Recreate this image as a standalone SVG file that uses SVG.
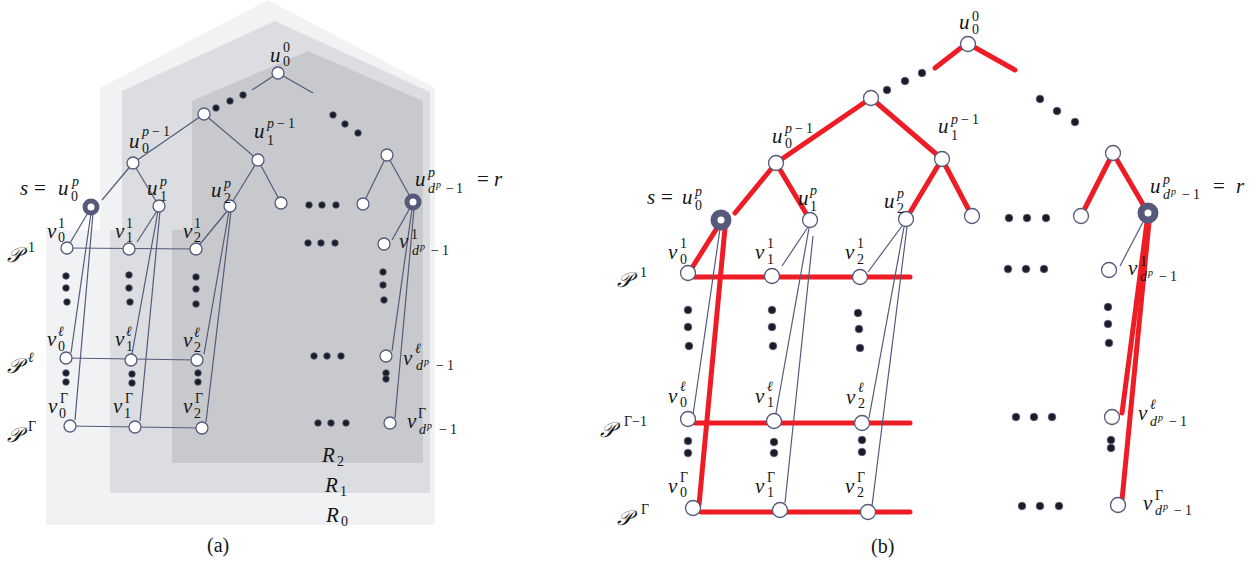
<svg xmlns="http://www.w3.org/2000/svg" width="1259" height="563" viewBox="0 0 1259 563">
<style>
text{font-family:"Liberation Serif","Times New Roman",serif;fill:#151515}
.m{font-size:21px;font-style:italic}
.n{font-style:normal;font-size:14px}
.i{font-style:italic;font-size:14px}
.t{font-style:italic;font-size:10px}
.P{font-size:21px;font-style:italic}
.cap{font-size:20px;font-style:normal}
.nd{fill:#fff;stroke:#555a7a;stroke-width:1.3}
.ring{fill:#fff;stroke:#555a7a}
.dot{fill:#1c1c28;stroke:#555a7a;stroke-width:0.8}
.th{stroke:#555a7a;stroke-width:1.2;fill:none}
.rd{stroke:#ee1d25;stroke-width:5;stroke-linecap:round;fill:none}
</style>
<rect width="1259" height="563" fill="#fff"/>
<g id="regions">
<polygon points="46,525 46,230 100,230 100,88 268,0 435,88 435,525" fill="#f1f2f4"/>
<polygon points="110,493 110,230 122,230 122,91 275,21 430,92 430,493" fill="#dcdde0"/>
<polygon points="172,463 172,230 192,230 192,101 308,51 423,101 423,463" fill="#c8c9cc"/>
</g>
<g id="connectors">
<g id="conn-a">
<line class="th" x1="278" y1="73" x2="252" y2="90"/>
<line class="th" x1="278" y1="73" x2="313" y2="93"/>
<line class="th" x1="204" y1="114" x2="133" y2="163"/>
<line class="th" x1="204" y1="114" x2="258" y2="160"/>
<line class="th" x1="133" y1="163" x2="102" y2="200"/>
<line class="th" x1="133" y1="163" x2="159" y2="206"/>
<line class="th" x1="258" y1="160" x2="230" y2="206"/>
<line class="th" x1="258" y1="160" x2="281" y2="203"/>
<line class="th" x1="387" y1="155" x2="363" y2="204"/>
<line class="th" x1="387" y1="155" x2="413" y2="202"/>
<line class="th" x1="89" y1="211" x2="67" y2="248"/>
<line class="th" x1="91" y1="213" x2="71" y2="353"/>
<line class="th" x1="93" y1="213" x2="75" y2="420"/>
<line class="th" x1="157" y1="211" x2="137" y2="242"/>
<line class="th" x1="158" y1="211" x2="132" y2="354"/>
<line class="th" x1="160" y1="211" x2="140" y2="421"/>
<line class="th" x1="228" y1="210" x2="196" y2="249"/>
<line class="th" x1="229" y1="211" x2="204" y2="354"/>
<line class="th" x1="231" y1="211" x2="206" y2="422"/>
<line class="th" x1="410" y1="208" x2="392" y2="240"/>
<line class="th" x1="412" y1="209" x2="392" y2="351"/>
<line class="th" x1="414" y1="209" x2="395" y2="418"/>
<line class="th" x1="67" y1="248" x2="196" y2="249"/>
<line class="th" x1="66" y1="358" x2="197" y2="360"/>
<line class="th" x1="70" y1="426" x2="202" y2="428"/>
</g>
<g id="conn-b">
<line class="rd" x1="962" y1="47" x2="935" y2="68"/>
<line class="rd" x1="974" y1="47" x2="1015" y2="70"/>
<line class="rd" x1="871" y1="98" x2="776" y2="163"/>
<line class="rd" x1="871" y1="98" x2="942" y2="159"/>
<line class="rd" x1="776" y1="163" x2="735" y2="213"/>
<line class="rd" x1="776" y1="163" x2="810" y2="220"/>
<line class="rd" x1="942" y1="159" x2="906" y2="219"/>
<line class="rd" x1="942" y1="159" x2="972" y2="216"/>
<line class="rd" x1="1113" y1="153" x2="1081" y2="216"/>
<line class="rd" x1="1113" y1="153" x2="1148" y2="213"/>
<line class="rd" x1="717" y1="228" x2="690" y2="271"/>
<line class="rd" x1="725" y1="228" x2="699" y2="505"/>
<line class="rd" x1="1147" y1="222" x2="1122" y2="413"/>
<line class="rd" x1="1149" y1="222" x2="1122" y2="500"/>
<line class="rd" x1="694" y1="277" x2="910" y2="277"/>
<line class="rd" x1="695" y1="423" x2="910" y2="423"/>
<line class="rd" x1="701" y1="512" x2="910" y2="512"/>
<line class="th" x1="720" y1="229" x2="693" y2="415"/>
<line class="th" x1="808" y1="227" x2="782" y2="266"/>
<line class="th" x1="809" y1="228" x2="776" y2="413"/>
<line class="th" x1="813" y1="236" x2="785" y2="503"/>
<line class="th" x1="902" y1="226" x2="868" y2="272"/>
<line class="th" x1="904" y1="227" x2="869" y2="418"/>
<line class="th" x1="907" y1="227" x2="872" y2="506"/>
<line class="th" x1="1143" y1="222" x2="1120" y2="266"/>
</g>
</g>
<g id="dots">
<circle class="dot" r="3.3" cx="216" cy="108"/><circle class="dot" r="3.3" cx="230" cy="101"/><circle class="dot" r="3.3" cx="243" cy="95"/>
<circle class="dot" r="3.3" cx="333" cy="115"/><circle class="dot" r="3.3" cx="345" cy="124"/><circle class="dot" r="3.3" cx="358" cy="133"/>
<circle class="dot" r="3.3" cx="309" cy="205"/><circle class="dot" r="3.3" cx="322" cy="205"/><circle class="dot" r="3.3" cx="336" cy="205"/>
<circle class="dot" r="3.3" cx="308" cy="243"/><circle class="dot" r="3.3" cx="321" cy="243"/><circle class="dot" r="3.3" cx="335" cy="243"/>
<circle class="dot" r="3.3" cx="314" cy="356"/><circle class="dot" r="3.3" cx="327" cy="356"/><circle class="dot" r="3.3" cx="341" cy="356"/>
<circle class="dot" r="3.3" cx="318" cy="423"/><circle class="dot" r="3.3" cx="331" cy="423"/><circle class="dot" r="3.3" cx="346" cy="423"/>
<circle class="dot" r="3.3" cx="66" cy="276"/><circle class="dot" r="3.3" cx="66" cy="288"/><circle class="dot" r="3.3" cx="67" cy="302"/>
<circle class="dot" r="3.3" cx="129" cy="275"/><circle class="dot" r="3.3" cx="129" cy="288"/><circle class="dot" r="3.3" cx="130" cy="302"/>
<circle class="dot" r="3.3" cx="196" cy="277"/><circle class="dot" r="3.3" cx="196" cy="289"/><circle class="dot" r="3.3" cx="196" cy="304"/>
<circle class="dot" r="3.3" cx="383" cy="272"/><circle class="dot" r="3.3" cx="383" cy="285"/><circle class="dot" r="3.3" cx="384" cy="300"/>
<circle class="dot" r="3.3" cx="66" cy="373"/><circle class="dot" r="3.3" cx="66" cy="382"/>
<circle class="dot" r="3.3" cx="132" cy="374"/><circle class="dot" r="3.3" cx="132" cy="383"/>
<circle class="dot" r="3.3" cx="198" cy="373"/><circle class="dot" r="3.3" cx="198" cy="382"/>
<circle class="dot" r="3.3" cx="386" cy="373"/><circle class="dot" r="3.3" cx="386" cy="379"/>
<circle class="dot" r="3.8" cx="887" cy="90"/><circle class="dot" r="3.8" cx="905" cy="81"/><circle class="dot" r="3.8" cx="922" cy="73"/>
<circle class="dot" r="3.8" cx="1040" cy="99"/><circle class="dot" r="3.8" cx="1057" cy="111"/><circle class="dot" r="3.8" cx="1075" cy="122"/>
<circle class="dot" r="3.8" cx="1009" cy="218"/><circle class="dot" r="3.8" cx="1027" cy="218"/><circle class="dot" r="3.8" cx="1046" cy="218"/>
<circle class="dot" r="3.8" cx="1008" cy="269"/><circle class="dot" r="3.8" cx="1026" cy="269"/><circle class="dot" r="3.8" cx="1044" cy="269"/>
<circle class="dot" r="3.8" cx="1016" cy="417"/><circle class="dot" r="3.8" cx="1034" cy="417"/><circle class="dot" r="3.8" cx="1052" cy="417"/>
<circle class="dot" r="3.8" cx="1022" cy="506"/><circle class="dot" r="3.8" cx="1040" cy="506"/><circle class="dot" r="3.8" cx="1059" cy="506"/>
<circle class="dot" r="3.8" cx="688" cy="310"/><circle class="dot" r="3.8" cx="688" cy="327"/><circle class="dot" r="3.8" cx="689" cy="346"/>
<circle class="dot" r="3.8" cx="772" cy="310"/><circle class="dot" r="3.8" cx="772" cy="327"/><circle class="dot" r="3.8" cx="773" cy="346"/>
<circle class="dot" r="3.8" cx="858" cy="313"/><circle class="dot" r="3.8" cx="859" cy="329"/><circle class="dot" r="3.8" cx="860" cy="348"/>
<circle class="dot" r="3.8" cx="1108" cy="307"/><circle class="dot" r="3.8" cx="1108" cy="324"/><circle class="dot" r="3.8" cx="1109" cy="343"/>
<circle class="dot" r="3.8" cx="688" cy="441"/><circle class="dot" r="3.8" cx="688" cy="453"/>
<circle class="dot" r="3.8" cx="774" cy="442"/><circle class="dot" r="3.8" cx="774" cy="453"/>
<circle class="dot" r="3.8" cx="862" cy="440"/><circle class="dot" r="3.8" cx="862" cy="452"/>
<circle class="dot" r="3.8" cx="1111" cy="440"/><circle class="dot" r="3.8" cx="1111" cy="448"/>
</g>
<g id="nodes-a">
<g id="a-u00"><circle class="nd" cx="278" cy="73" r="6"/><text class="m" x="270" y="62">u<tspan class="n" x="283" y="52">0</tspan><tspan class="n" x="283" y="66">0</tspan></text></g>
<g id="a-mid"><circle class="nd" cx="204" cy="114" r="6"/></g>
<g id="a-u0p1"><circle class="nd" cx="133" cy="163" r="6"/><text class="m" x="129" y="148">u<tspan class="i" x="142" y="136">p</tspan><tspan class="n" x="152" y="136">−</tspan><tspan class="n" x="163" y="136">1</tspan><tspan class="n" x="142" y="153">0</tspan></text></g>
<g id="a-u1p1"><circle class="nd" cx="258" cy="160" r="6"/><text class="m" x="254" y="138">u<tspan class="i" x="267" y="128">p</tspan><tspan class="n" x="277" y="128">−</tspan><tspan class="n" x="288" y="128">1</tspan><tspan class="n" x="267" y="145">1</tspan></text></g>
<g id="a-right"><circle class="nd" cx="387" cy="155" r="6"/></g>
<g id="a-s"><circle class="ring" cx="91" cy="207" r="6" stroke-width="5"/><text class="m" x="20" y="195">s<tspan font-style="normal" x="34">=</tspan><tspan x="58">u</tspan><tspan class="i" x="72" y="186">p</tspan><tspan class="n" x="71" y="201">0</tspan></text></g>
<g id="a-u1p"><circle class="nd" cx="159" cy="206" r="6"/><text class="m" x="147" y="195">u<tspan class="i" x="160" y="186">p</tspan><tspan class="n" x="160" y="201">1</tspan></text></g>
<g id="a-u2p"><circle class="nd" cx="230" cy="206" r="6"/><text class="m" x="211" y="197">u<tspan class="i" x="224" y="188">p</tspan><tspan class="n" x="224" y="203">2</tspan></text></g>
<g id="a-n3"><circle class="nd" cx="281" cy="203" r="6"/></g>
<g id="a-n4"><circle class="nd" cx="363" cy="204" r="6"/></g>
<g id="a-r"><circle class="ring" cx="413" cy="202" r="6" stroke-width="5"/><text class="m" x="415" y="186">u<tspan class="i" x="428" y="177">p</tspan><tspan class="i" x="428" y="193">d</tspan><tspan class="t" x="436" y="188">p</tspan><tspan class="n" x="446" y="193">−</tspan><tspan class="n" x="456" y="193">1</tspan><tspan font-style="normal" x="477" y="186">=</tspan><tspan x="494" y="186">r</tspan></text></g>
<g id="a-v01"><circle class="nd" cx="67" cy="248" r="6"/><text class="m" x="47" y="238">v<tspan class="n" x="58" y="228">1</tspan><tspan class="n" x="58" y="242">0</tspan></text></g>
<g id="a-v11"><circle class="nd" cx="129" cy="249" r="6"/><text class="m" x="115" y="238">v<tspan class="n" x="126" y="228">1</tspan><tspan class="n" x="126" y="242">1</tspan></text></g>
<g id="a-v21"><circle class="nd" cx="196" cy="249" r="6"/><text class="m" x="183" y="238">v<tspan class="n" x="194" y="228">1</tspan><tspan class="n" x="194" y="242">2</tspan></text></g>
<g id="a-vd1"><circle class="nd" cx="384" cy="244" r="6"/><text class="m" x="399" y="248">v<tspan class="n" x="411" y="239">1</tspan><tspan class="i" x="412" y="255">d</tspan><tspan class="t" x="420" y="250">p</tspan><tspan class="n" x="431" y="255">−</tspan><tspan class="n" x="442" y="255">1</tspan></text></g>
<g id="a-v0l"><circle class="nd" cx="66" cy="358" r="6"/><text class="m" x="47" y="346">v<tspan class="i" x="58" y="336">ℓ</tspan><tspan class="n" x="58" y="351">0</tspan></text></g>
<g id="a-v1l"><circle class="nd" cx="131" cy="360" r="6"/><text class="m" x="115" y="346">v<tspan class="i" x="126" y="336">ℓ</tspan><tspan class="n" x="126" y="351">1</tspan></text></g>
<g id="a-v2l"><circle class="nd" cx="197" cy="360" r="6"/><text class="m" x="183" y="347">v<tspan class="i" x="194" y="337">ℓ</tspan><tspan class="n" x="194" y="352">2</tspan></text></g>
<g id="a-vdl"><circle class="nd" cx="386" cy="356" r="6"/><text class="m" x="403" y="365">v<tspan class="i" x="415" y="353">ℓ</tspan><tspan class="i" x="416" y="370">d</tspan><tspan class="t" x="424" y="365">p</tspan><tspan class="n" x="436" y="370">−</tspan><tspan class="n" x="447" y="370">1</tspan></text></g>
<g id="a-v0G"><circle class="nd" cx="70" cy="426" r="6"/><text class="m" x="48" y="413">v<tspan class="n" x="60" y="403">Γ</tspan><tspan class="n" x="59" y="418">0</tspan></text></g>
<g id="a-v1G"><circle class="nd" cx="135" cy="427" r="6"/><text class="m" x="113" y="413">v<tspan class="n" x="125" y="403">Γ</tspan><tspan class="n" x="124" y="418">1</tspan></text></g>
<g id="a-v2G"><circle class="nd" cx="202" cy="428" r="6"/><text class="m" x="183" y="413">v<tspan class="n" x="195" y="403">Γ</tspan><tspan class="n" x="194" y="418">2</tspan></text></g>
<g id="a-vdG"><circle class="nd" cx="390" cy="423" r="6"/><text class="m" x="407" y="428">v<tspan class="n" x="418" y="418">Γ</tspan><tspan class="i" x="419" y="434">d</tspan><tspan class="t" x="427" y="429">p</tspan><tspan class="n" x="439" y="434">−</tspan><tspan class="n" x="450" y="434">1</tspan></text></g>
</g>
<g id="labels-a">
<text class="P" x="7" y="262">𝒫<tspan class="n" x="28" y="252">1</tspan></text>
<text class="P" x="7" y="373">𝒫<tspan class="i" x="28" y="362">ℓ</tspan></text>
<text class="P" x="7" y="442">𝒫<tspan class="n" x="28" y="431">Γ</tspan></text>
<text class="m" x="322" y="462">R<tspan class="n" x="337" y="466">2</tspan></text>
<text class="m" x="325" y="492">R<tspan class="n" x="340" y="496">1</tspan></text>
<text class="m" x="326" y="522">R<tspan class="n" x="341" y="526">0</tspan></text>
<text class="cap" x="207" y="552">(a)</text>
</g>
<g id="nodes-b">
<g id="b-u00"><circle class="nd" cx="968" cy="44" r="7.5"/><text class="m" x="959" y="29">u<tspan class="n" x="972" y="21">0</tspan><tspan class="n" x="972" y="34">0</tspan></text></g>
<g id="b-mid"><circle class="nd" cx="871" cy="98" r="7.5"/></g>
<g id="b-u0p1"><circle class="nd" cx="776" cy="163" r="7.5"/><text class="m" x="772" y="143">u<tspan class="i" x="785" y="133">p</tspan><tspan class="n" x="795" y="133">−</tspan><tspan class="n" x="806" y="133">1</tspan><tspan class="n" x="785" y="148">0</tspan></text></g>
<g id="b-u1p1"><circle class="nd" cx="942" cy="159" r="7.5"/><text class="m" x="938" y="133">u<tspan class="i" x="951" y="124">p</tspan><tspan class="n" x="961" y="124">−</tspan><tspan class="n" x="972" y="124">1</tspan><tspan class="n" x="951" y="140">1</tspan></text></g>
<g id="b-right"><circle class="nd" cx="1113" cy="153" r="7.5"/></g>
<g id="b-s"><circle class="ring" cx="721" cy="220" r="7" stroke-width="7"/><text class="m" x="647" y="204">s<tspan font-style="normal" x="661">=</tspan><tspan x="682">u</tspan><tspan class="i" x="695" y="196">p</tspan><tspan class="n" x="695" y="210">0</tspan></text></g>
<g id="b-u1p"><circle class="nd" cx="810" cy="220" r="7.5"/><text class="m" x="798" y="205">u<tspan class="i" x="810" y="195">p</tspan><tspan class="n" x="810" y="211">1</tspan></text></g>
<g id="b-u2p"><circle class="nd" cx="906" cy="219" r="7.5"/><text class="m" x="884" y="208">u<tspan class="i" x="897" y="198">p</tspan><tspan class="n" x="897" y="213">2</tspan></text></g>
<g id="b-n3"><circle class="nd" cx="972" cy="216" r="7.5"/></g>
<g id="b-n4"><circle class="nd" cx="1081" cy="216" r="7.5"/></g>
<g id="b-r"><circle class="ring" cx="1148" cy="213" r="7" stroke-width="7"/><text class="m" x="1150" y="193">u<tspan class="i" x="1163" y="184">p</tspan><tspan class="i" x="1163" y="199">d</tspan><tspan class="t" x="1171" y="195">p</tspan><tspan class="n" x="1182" y="199">−</tspan><tspan class="n" x="1193" y="199">1</tspan><tspan font-style="normal" x="1213" y="193">=</tspan><tspan x="1236" y="193">r</tspan></text></g>
<g id="b-v01"><circle class="nd" cx="688" cy="273" r="7.5"/><text class="m" x="668" y="259">v<tspan class="n" x="680" y="248">1</tspan><tspan class="n" x="680" y="264">0</tspan></text></g>
<g id="b-v11"><circle class="nd" cx="772" cy="276" r="7.5"/><text class="m" x="755" y="259">v<tspan class="n" x="767" y="248">1</tspan><tspan class="n" x="767" y="264">1</tspan></text></g>
<g id="b-v21"><circle class="nd" cx="860" cy="277" r="7.5"/><text class="m" x="845" y="259">v<tspan class="n" x="857" y="248">1</tspan><tspan class="n" x="857" y="264">2</tspan></text></g>
<g id="b-vd1"><circle class="nd" cx="1109" cy="270" r="7.5"/><text class="m" x="1128" y="275">v<tspan class="n" x="1140" y="266">1</tspan><tspan class="i" x="1140" y="281">d</tspan><tspan class="t" x="1148" y="276">p</tspan><tspan class="n" x="1159" y="281">−</tspan><tspan class="n" x="1170" y="281">1</tspan></text></g>
<g id="b-v0l"><circle class="nd" cx="688" cy="419" r="7.5"/><text class="m" x="668" y="403">v<tspan class="i" x="680" y="391">ℓ</tspan><tspan class="n" x="680" y="407">0</tspan></text></g>
<g id="b-v1l"><circle class="nd" cx="774" cy="421" r="7.5"/><text class="m" x="755" y="403">v<tspan class="i" x="767" y="391">ℓ</tspan><tspan class="n" x="767" y="407">1</tspan></text></g>
<g id="b-v2l"><circle class="nd" cx="862" cy="423" r="7.5"/><text class="m" x="846" y="404">v<tspan class="i" x="858" y="392">ℓ</tspan><tspan class="n" x="858" y="408">2</tspan></text></g>
<g id="b-vdl"><circle class="nd" cx="1112" cy="417" r="7.5"/><text class="m" x="1138" y="420">v<tspan class="i" x="1150" y="409">ℓ</tspan><tspan class="i" x="1150" y="426">d</tspan><tspan class="t" x="1158" y="421">p</tspan><tspan class="n" x="1169" y="426">−</tspan><tspan class="n" x="1180" y="426">1</tspan></text></g>
<g id="b-v0G"><circle class="nd" cx="693" cy="508" r="7.5"/><text class="m" x="668" y="493">v<tspan class="n" x="680" y="482">Γ</tspan><tspan class="n" x="680" y="497">0</tspan></text></g>
<g id="b-v1G"><circle class="nd" cx="780" cy="510" r="7.5"/><text class="m" x="755" y="493">v<tspan class="n" x="767" y="482">Γ</tspan><tspan class="n" x="767" y="497">1</tspan></text></g>
<g id="b-v2G"><circle class="nd" cx="868" cy="512" r="7.5"/><text class="m" x="845" y="493">v<tspan class="n" x="857" y="482">Γ</tspan><tspan class="n" x="857" y="497">2</tspan></text></g>
<g id="b-vdG"><circle class="nd" cx="1118" cy="505" r="7.5"/><text class="m" x="1143" y="510">v<tspan class="n" x="1155" y="500">Γ</tspan><tspan class="i" x="1155" y="515">d</tspan><tspan class="t" x="1163" y="510">p</tspan><tspan class="n" x="1174" y="515">−</tspan><tspan class="n" x="1185" y="515">1</tspan></text></g>
</g>
<g id="labels-b">
<text class="P" x="617" y="287">𝒫<tspan class="n" x="640" y="277">1</tspan></text>
<text class="P" x="600" y="437">𝒫<tspan class="n" x="624" y="426">Γ−1</tspan></text>
<text class="P" x="617" y="525">𝒫<tspan class="n" x="641" y="514">Γ</tspan></text>
<text class="cap" x="871" y="553">(b)</text>
</g>
</svg>
